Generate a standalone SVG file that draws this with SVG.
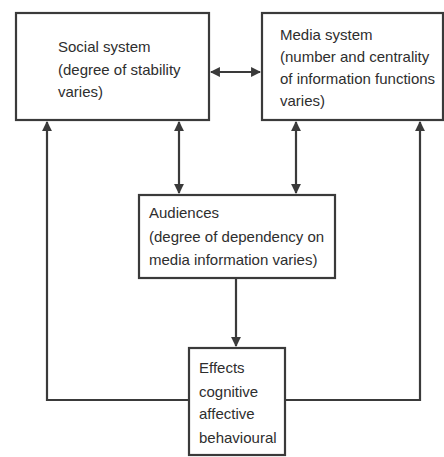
<svg xmlns="http://www.w3.org/2000/svg" width="444" height="457" viewBox="0 0 444 457">
<style>
.box{fill:#fff;stroke:#3a3a3a;stroke-width:2.2}
.ln{fill:none;stroke:#3a3a3a;stroke-width:2.2}
text{font-family:"Liberation Sans",Arial,sans-serif;font-size:15px;fill:#2e2e2e}
</style>
<defs>
<marker id="ah" viewBox="0 0 10 10" refX="9" refY="5" markerWidth="4.5" markerHeight="4.5" orient="auto-start-reverse" markerUnits="strokeWidth">
<path d="M0,0 L10,5 L0,10 z" fill="#3a3a3a"/>
</marker>
</defs>
<rect width="444" height="457" fill="#fff"/>
<g id="connectors">
<line class="ln" x1="211" y1="72" x2="260" y2="72" marker-start="url(#ah)" marker-end="url(#ah)"/>
<line class="ln" x1="179" y1="122" x2="179" y2="193" marker-start="url(#ah)" marker-end="url(#ah)"/>
<line class="ln" x1="296" y1="122" x2="296" y2="193" marker-start="url(#ah)" marker-end="url(#ah)"/>
<line class="ln" x1="236" y1="279" x2="236" y2="346" marker-end="url(#ah)"/>
<polyline class="ln" points="189,400 47,400 47,122" marker-end="url(#ah)"/>
<polyline class="ln" points="285,400 420,400 420,122" marker-end="url(#ah)"/>
</g>
<g id="social">
<rect class="box" x="16" y="13" width="193" height="107"/>
<text x="58" y="52">Social system</text>
<text x="58" y="75">(degree of stability</text>
<text x="58" y="97">varies)</text>
</g>
<g id="media">
<rect class="box" x="262" y="13" width="181" height="107"/>
<text x="280" y="40">Media system</text>
<text x="280" y="62">(number and centrality</text>
<text x="280" y="84">of information functions</text>
<text x="280" y="106">varies)</text>
</g>
<g id="audiences">
<rect class="box" x="139" y="195" width="196" height="83"/>
<text x="149" y="218">Audiences</text>
<text x="149" y="242">(degree of dependency on</text>
<text x="149" y="265">media information varies)</text>
</g>
<g id="effects">
<rect class="box" x="189" y="348" width="96" height="107"/>
<text x="199" y="373">Effects</text>
<text x="199" y="397">cognitive</text>
<text x="199" y="419">affective</text>
<text x="199" y="443">behavioural</text>
</g>
</svg>
